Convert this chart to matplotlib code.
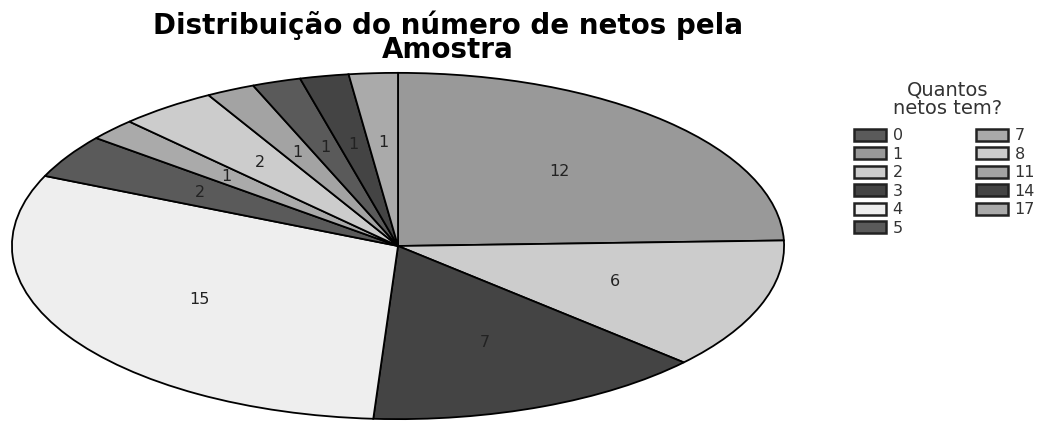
import matplotlib
matplotlib.use('Agg')
import matplotlib.pyplot as plt

# Number of grandchildren per respondent, frequency of each answer
categories = ['0', '1', '2', '3', '4', '5', '7', '8', '11', '14', '17']
counts = [1, 12, 6, 7, 15, 2, 1, 2, 1, 1, 1]
grays = ['#5a5a5a', '#999999', '#cccccc', '#444444', '#eeeeee', '#5a5a5a',
         '#aaaaaa', '#cccccc', '#a3a3a3', '#444444', '#aaaaaa']

# order in which the slices go round the pie (clockwise from the top)
slice_order = ['1', '2', '3', '4', '5', '7', '8', '11', '0', '14', '17']

plt.rcParams['font.family'] = ['DejaVu Sans']

idx = [categories.index(c) for c in slice_order]
vals = [counts[i] for i in idx]
cols = [grays[i] for i in idx]
total = sum(counts)

fig = plt.figure(figsize=(10.58, 4.21), dpi=100)
ax = fig.add_axes([10 / 1058, 1 / 421, 776 / 1058, 348 / 421])

wedges, _, autotexts = ax.pie(
    vals, colors=cols, startangle=90, counterclock=False,
    autopct=lambda p: '%d' % round(p * total / 100), pctdistance=0.6,
    wedgeprops=dict(edgecolor='black', linewidth=1.3),
    textprops=dict(fontsize=11.5, color='#222222'))

# stretch the pie into an ellipse
ax.set_aspect('auto')
ax.set_xlim(-1.005, 1.005)
ax.set_ylim(-1.005, 1.005)

fig.text(448 / 1058, 1 - 37 / 421,
         'Distribuição do número de netos pela\nAmostra',
         ha='center', va='center', fontsize=20, fontweight='bold',
         linespacing=0.82)

# legend heading drawn on its own so its gap to the entries can be set
fig.text(948 / 1058, 1 - 99 / 421, 'Quantos\nnetos tem?',
         ha='center', va='center', fontsize=14, color='#333333',
         linespacing=0.95)

by_cat = {c: wedges[k] for k, c in enumerate(slice_order)}
leg = fig.legend([by_cat[c] for c in categories], categories,
                 ncol=2, loc='upper left',
                 bbox_to_anchor=(843 / 1058, 1 - 117 / 421),
                 frameon=False, fontsize=11.5,
                 handlelength=2.0, handleheight=0.8, handletextpad=0.4,
                 columnspacing=4.6, labelspacing=0.22, borderpad=0.2)
for h in leg.legend_handles:
    h.set_edgecolor('#222222')
    h.set_linewidth(1.8)
for t in leg.get_texts():
    t.set_color('#333333')

fig.savefig('out.png', dpi=100)
